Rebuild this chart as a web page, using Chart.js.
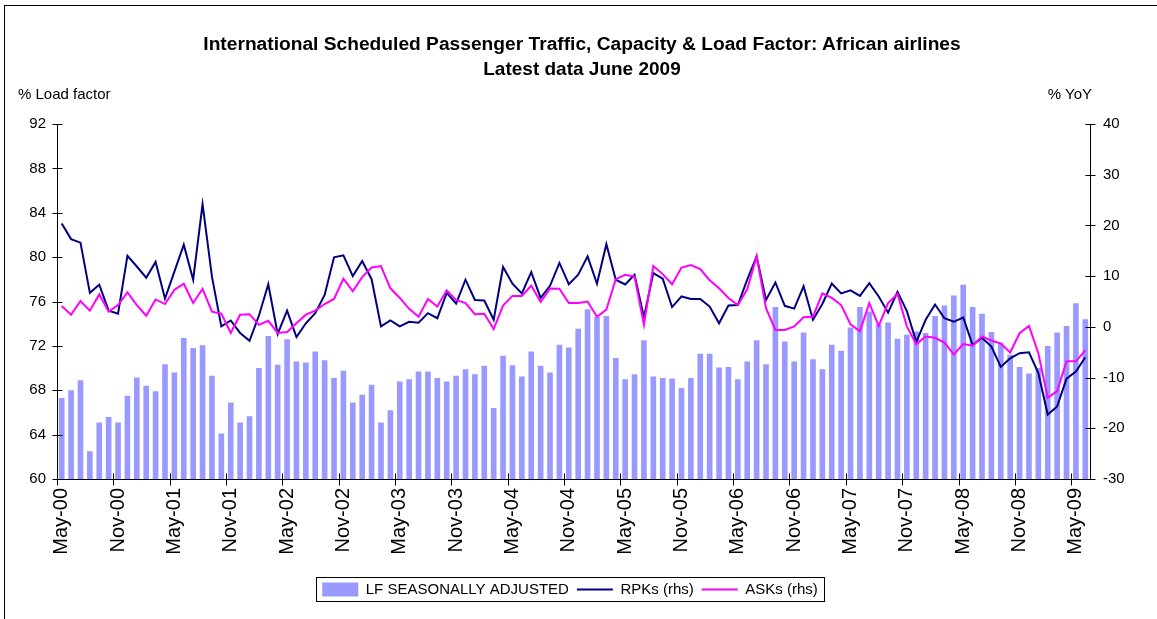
<!DOCTYPE html>
<html>
<head>
<meta charset="utf-8">
<script src="https://cdn.jsdelivr.net/npm/chart.js@4.4.1/dist/chart.umd.min.js"></script>
<style>
html,body{margin:0;padding:0;background:#fff;overflow:hidden;}
#wrap{position:relative;width:1157px;height:619px;overflow:hidden;font-family:"Liberation Sans",Arial,sans-serif;color:#000;}
#frame{position:absolute;left:4px;top:5px;width:1180px;height:640px;border:1px solid #000;box-sizing:border-box;}
canvas{position:absolute;left:0;top:0;}
.t{position:absolute;white-space:nowrap;color:#000;line-height:1;}
#t1{left:582px;top:44px;transform:translate(-50%,-50%);font-weight:bold;font-size:19.2px;}
#t2{left:582px;top:68px;transform:translate(-50%,-50%);font-weight:bold;font-size:19px;}
#ul{left:18px;top:93px;transform:translate(0,-50%);font-size:15px;}
#ur{right:65px;top:93px;transform:translate(0,-50%);font-size:15px;}
</style>
</head>
<body>
<div id="wrap">
  <div id="frame"></div>
  <canvas id="c" width="1157" height="619"></canvas>
  <div class="t" id="t1">International Scheduled Passenger Traffic, Capacity &amp; Load Factor: African airlines</div>
  <div class="t" id="t2">Latest data June 2009</div>
  <div class="t" id="ul">% Load factor</div>
  <div class="t" id="ur">% YoY</div>
</div>
<script>
// ---- Categories ----
const months = [
 'May-00','Jun-00','Jul-00','Aug-00','Sep-00','Oct-00','Nov-00','Dec-00',
 'Jan-01','Feb-01','Mar-01','Apr-01','May-01','Jun-01','Jul-01','Aug-01','Sep-01','Oct-01','Nov-01','Dec-01',
 'Jan-02','Feb-02','Mar-02','Apr-02','May-02','Jun-02','Jul-02','Aug-02','Sep-02','Oct-02','Nov-02','Dec-02',
 'Jan-03','Feb-03','Mar-03','Apr-03','May-03','Jun-03','Jul-03','Aug-03','Sep-03','Oct-03','Nov-03','Dec-03',
 'Jan-04','Feb-04','Mar-04','Apr-04','May-04','Jun-04','Jul-04','Aug-04','Sep-04','Oct-04','Nov-04','Dec-04',
 'Jan-05','Feb-05','Mar-05','Apr-05','May-05','Jun-05','Jul-05','Aug-05','Sep-05','Oct-05','Nov-05','Dec-05',
 'Jan-06','Feb-06','Mar-06','Apr-06','May-06','Jun-06','Jul-06','Aug-06','Sep-06','Oct-06','Nov-06','Dec-06',
 'Jan-07','Feb-07','Mar-07','Apr-07','May-07','Jun-07','Jul-07','Aug-07','Sep-07','Oct-07','Nov-07','Dec-07',
 'Jan-08','Feb-08','Mar-08','Apr-08','May-08','Jun-08','Jul-08','Aug-08','Sep-08','Oct-08','Nov-08','Dec-08',
 'Jan-09','Feb-09','Mar-09','Apr-09','May-09','Jun-09'
];

// ---- Series values ----
const lfSeasonallyAdjusted = [
 67.3,68.0,68.9,62.5,65.1,65.6,65.1,67.5,69.15,68.4,
 67.9,70.35,69.6,72.7,71.8,72.05,69.3,64.1,66.9,65.1,
 65.65,70.0,72.9,70.3,72.6,70.6,70.5,71.5,70.7,69.1,
 69.75,66.9,67.6,68.5,65.1,66.2,68.8,69.0,69.7,69.7,
 69.1,68.8,69.3,69.9,69.45,70.2,66.4,71.1,70.25,69.25,
 71.5,70.2,69.6,72.1,71.85,73.55,75.3,74.6,74.7,70.9,
 69.0,69.45,72.5,69.25,69.1,69.05,68.2,69.1,71.3,71.3,
 70.05,70.1,69.0,70.6,72.5,70.35,75.5,72.4,70.6,73.2,
 70.8,69.9,72.1,71.55,73.65,75.5,75.1,73.95,74.1,72.65,
 73.0,73.3,73.15,74.7,75.65,76.55,77.5,75.5,74.9,73.25,
 72.3,71.2,70.1,69.5,70.0,72.0,73.2,73.8,75.85,74.4
];
const rpkYoY = [
 20.4,17.3,16.6,6.7,8.3,3.2,2.6,14.0,11.9,9.7,
 12.8,5.6,10.9,16.2,9.3,24.2,9.9,0.1,1.25,-1.2,
 -2.75,2.2,8.4,-1.4,3.2,-2.0,0.7,2.7,6.3,13.7,
 14.1,10.0,13.0,9.4,0.1,1.25,0.1,1.0,0.8,2.7,
 1.7,6.7,4.6,9.3,5.3,5.2,1.4,11.8,8.5,6.6,
 10.8,5.7,8.1,12.6,8.4,10.3,13.9,8.5,16.3,9.3,
 8.35,10.25,1.9,10.6,9.5,3.9,6.0,5.5,5.5,4.0,
 0.7,4.2,4.3,9.3,13.9,5.3,8.75,4.15,3.6,8.0,
 1.4,4.5,8.55,6.6,7.2,6.1,8.6,6.0,2.8,6.9,
 3.1,-3.0,1.4,4.4,1.7,1.0,1.85,-3.6,-2.15,-3.9,
 -7.9,-6.2,-5.2,-5.0,-9.1,-17.3,-15.7,-10.2,-8.8,-6.0
];
const askYoY = [
 4.1,2.4,5.1,3.2,6.4,3.0,4.3,6.8,4.3,2.2,
 5.4,4.5,7.3,8.5,4.7,7.5,3.0,2.6,-1.2,2.4,
 2.5,0.4,1.2,-1.2,-1.0,0.7,2.4,3.2,4.5,5.5,
 9.5,7.0,9.8,11.7,12.0,7.6,5.7,3.55,2.0,5.5,
 4.0,7.2,5.3,4.7,2.5,2.6,-0.45,4.2,6.1,6.1,
 8.1,4.9,7.55,7.5,4.7,4.7,5.0,2.0,3.4,9.4,
 10.25,9.9,0.4,12.0,10.4,8.4,11.7,12.2,11.4,9.2,
 7.6,5.7,4.3,7.4,13.9,3.7,-0.6,-0.6,0.1,1.9,
 2.0,6.6,5.7,4.3,0.5,-0.9,4.7,0.2,4.7,6.5,
 0.1,-3.4,-1.9,-2.15,-3.1,-5.45,-3.4,-3.7,-1.9,-2.7,
 -3.3,-5.05,-1.25,0.2,-5.2,-14.0,-12.65,-6.8,-6.8,-4.65
];

// ---- Axis settings ----
const leftTicks = {min: 60, max: 92, step: 4};
const rightTicks = {min: -30, max: 40, step: 10};
const labelEvery = 6;

const FONT = '"Liberation Sans", Arial, sans-serif';
const legendStyles = ['rect', 'line', 'line'];

const axisPlugin = {
  id: 'axisMarks',
  afterDatasetsDraw(chart) {
    const {ctx, chartArea: a, scales: {x, y, y1}} = chart;
    ctx.save();
    ctx.strokeStyle = '#000';
    ctx.lineWidth = 1;
    ctx.beginPath();
    const L = Math.round(a.left) + 0.5, R = Math.round(a.right) + 0.5, B = Math.round(a.bottom) + 0.5;
    ctx.moveTo(L, a.top); ctx.lineTo(L, B);
    ctx.moveTo(R, a.top); ctx.lineTo(R, B);
    ctx.moveTo(L, B); ctx.lineTo(R, B);
    y.ticks.forEach((t, i) => { const p = Math.round(y.getPixelForTick(i)) + 0.5; ctx.moveTo(L - 5, p); ctx.lineTo(L + 5, p); });
    y1.ticks.forEach((t, i) => { const p = Math.round(y1.getPixelForTick(i)) + 0.5; ctx.moveTo(R - 5, p); ctx.lineTo(R + 5, p); });
    const half = (x.getPixelForValue(1) - x.getPixelForValue(0)) / 2;
    for (let i = 0; i < months.length; i += labelEvery) {
      const p = Math.round(x.getPixelForValue(i) - half) + 0.5;
      ctx.moveTo(p, B - 6); ctx.lineTo(p, B + 6);
    }
    ctx.stroke();
    ctx.restore();
  }
};

const legendBoxPlugin = {
  id: 'legendBox',
  afterDraw(chart) {
    const lg = chart.legend;
    if (!lg || !lg.legendHitBoxes || !lg.legendHitBoxes.length) return;
    const hb = lg.legendHitBoxes;
    const first = hb[0], last = hb[hb.length - 1];
    const l = Math.round(first.left - 6) + 0.5;
    const r = Math.round(last.left + last.width + 6) + 0.5;
    const t = Math.round(first.top - 5) + 0.5;
    const b = Math.round(first.top + first.height + 4) + 0.5;
    const ctx = chart.ctx;
    ctx.save();
    ctx.strokeStyle = '#000';
    ctx.lineWidth = 1;
    ctx.strokeRect(l, t, r - l, b - t);
    ctx.restore();
  }
};

new Chart(document.getElementById('c'), {
  data: {
    labels: months,
    datasets: [
      {type: 'bar', label: 'LF SEASONALLY ADJUSTED', data: lfSeasonallyAdjusted, yAxisID: 'y',
       backgroundColor: '#9999FF', borderWidth: 0, barPercentage: 0.6, categoryPercentage: 1, order: 3},
      {type: 'line', label: 'RPKs (rhs)', data: rpkYoY, yAxisID: 'y1',
       borderColor: '#000080', backgroundColor: '#000080', borderWidth: 2, pointRadius: 0, tension: 0, order: 2},
      {type: 'line', label: 'ASKs (rhs)', data: askYoY, yAxisID: 'y1',
       borderColor: '#FF00FF', backgroundColor: '#FF00FF', borderWidth: 2, pointRadius: 0, tension: 0, order: 1}
    ]
  },
  options: {
    responsive: false,
    animation: false,
    events: [],
    layout: {padding: {left: 0, right: 17, top: 124, bottom: 12}},
    plugins: {
      title: {display: false},
      tooltip: {enabled: false},
      legend: {
        position: 'bottom',
        labels: {
          usePointStyle: true, pointStyleWidth: 36, boxHeight: 14, padding: 8,
          color: '#000', font: {size: 15, family: FONT},
          sort: (a, b) => a.datasetIndex - b.datasetIndex,
          generateLabels(chart) {
            const items = Chart.defaults.plugins.legend.labels.generateLabels(chart);
            items.forEach(it => {
              const di = it.datasetIndex;
              const ds = chart.data.datasets[di];
              it.pointStyle = legendStyles[di];
              if (legendStyles[di] === 'line') { it.lineWidth = 2; it.strokeStyle = ds.borderColor; }
              else { it.lineWidth = 0; it.fillStyle = ds.backgroundColor; }
            });
            return items;
          }
        }
      }
    },
    scales: {
      x: {
        type: 'category', offset: true,
        grid: {display: false, drawTicks: false}, border: {display: false},
        ticks: {autoSkip: false, maxRotation: 90, minRotation: 90, padding: 9, color: '#000',
                font: {size: 20, family: FONT},
                callback: (v, i) => (i % labelEvery === 0 ? months[i] : '')},
        afterFit: s => { s.height = 95; }
      },
      y: {
        position: 'left', min: leftTicks.min, max: leftTicks.max,
        grid: {display: false, drawTicks: false}, border: {display: false},
        ticks: {stepSize: leftTicks.step, padding: 11, color: '#000', font: {size: 15, family: FONT}},
        afterFit: s => { s.width = 57; }
      },
      y1: {
        position: 'right', min: rightTicks.min, max: rightTicks.max,
        grid: {display: false, drawTicks: false}, border: {display: false},
        ticks: {stepSize: rightTicks.step, padding: 13, color: '#000', font: {size: 15, family: FONT}},
        afterFit: s => { s.width = 50; }
      }
    }
  },
  plugins: [axisPlugin, legendBoxPlugin]
});
</script>
</body>
</html>
